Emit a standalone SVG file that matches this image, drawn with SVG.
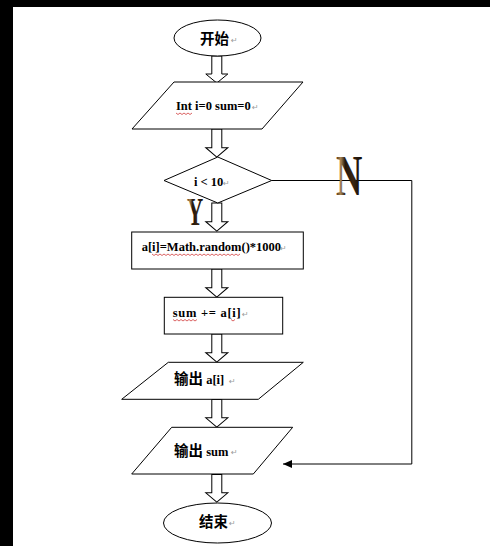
<svg xmlns="http://www.w3.org/2000/svg" width="490" height="546" viewBox="0 0 490 546">
<style>
.shape{fill:#fff;stroke:#000;stroke-width:1}
.barrow{fill:#fff;stroke:#000;stroke-width:1}
.en{font-family:"Liberation Serif","Times New Roman",serif;font-weight:bold;font-size:12.5px;fill:#000}
.cn{font-family:"Noto Sans CJK SC","Noto Sans",sans-serif;font-weight:bold;font-size:14.5px;fill:#000}
.pm{font-family:"DejaVu Sans",sans-serif;font-size:8px;fill:#9a9a9a}
.wavy{fill:none;stroke:#d23c3c;stroke-width:0.8}
.conn{fill:none;stroke:#000;stroke-width:1}
.big{font-family:"Liberation Serif","Times New Roman",serif;font-weight:bold;fill:url(#bronze)}
</style>
<defs>
<linearGradient id="bronze" x1="0" y1="0" x2="1" y2="0">
<stop offset="0" stop-color="#4a3216"/>
<stop offset="0.18" stop-color="#a88452"/>
<stop offset="0.35" stop-color="#24160a"/>
<stop offset="0.65" stop-color="#3a2612"/>
<stop offset="1" stop-color="#0e0804"/>
</linearGradient>
<path id="ba" d="M-5,0 L5,0 L5,18 L11,18 L0,27 L-11,18 L-5,18 Z"/>
<marker id="ah" markerWidth="10" markerHeight="8" refX="9" refY="4" orient="auto" markerUnits="userSpaceOnUse">
<path d="M0,0 L9,4 L0,8 Z" fill="#000"/>
</marker>
</defs>
<rect x="0" y="0" width="490" height="546" fill="#fff"/>
<rect x="0" y="0" width="490" height="7" fill="#000"/>
<rect x="0" y="0" width="13" height="546" fill="#000"/>

<g id="connectors">
<use href="#ba" class="barrow" transform="translate(216.8,56)"/>
<use href="#ba" class="barrow" transform="translate(216.8,129) scale(1,1.04)"/>
<use href="#ba" class="barrow" transform="translate(216.8,203) scale(1,1.04)"/>
<use href="#ba" class="barrow" transform="translate(216.8,269) scale(1,1.04)"/>
<use href="#ba" class="barrow" transform="translate(216.8,334) scale(1,1.04)"/>
<use href="#ba" class="barrow" transform="translate(216.8,399.5) scale(1,1.02)"/>
<use href="#ba" class="barrow" transform="translate(216.8,474.5) scale(1,1.02)"/>
<polyline class="conn" points="271.7,180.5 411.8,180.5 411.8,464 283,464" marker-end="url(#ah)"/>
<text class="big" font-size="56" transform="translate(336,195) scale(0.65,1)">N</text>
<text class="big" font-size="40" transform="translate(187,224.5) scale(0.56,1)">Y</text>
</g>

<g id="start">
<ellipse class="shape" cx="217.5" cy="38" rx="43.5" ry="18"/>
<text class="cn" x="200" y="44" font-size="15">开始</text>
<text class="pm" x="231" y="43">↵</text>
</g>

<g id="init">
<polygon class="shape" points="174,82 303,82 262,129 132,129"/>
<text class="en" x="176" y="110">Int i=0 sum=0</text>
<text class="pm" x="252" y="110">↵</text>
<path class="wavy" d="M176,113 l2,1.5 l2,-1.5 l2,1.5 l2,-1.5 l2,1.5 l2,-1.5 l2,1.5 l2,-1.5"/>
</g>

<g id="cond">
<polygon class="shape" points="217.8,157 271.7,180.5 217.8,203 164,180.5"/>
<text class="en" x="194" y="186">i &lt; 10</text>
<text class="pm" x="223" y="186">↵</text>
</g>

<g id="assign">
<rect class="shape" x="131.7" y="232" width="171.6" height="37"/>
<text class="en" x="141.7" y="251">a[i]=Math.random()*1000</text>
<text class="pm" x="280" y="251">↵</text>
<path class="wavy" d="M152,254 l2,1.5 l2,-1.5 l2,1.5 l2,-1.5 l2,1.5 l2,-1.5 l2,1.5 l2,-1.5 l2,1.5 l2,-1.5 l2,1.5 l2,-1.5 l2,1.5 l2,-1.5 l2,1.5 l2,-1.5 l2,1.5 l2,-1.5 l2,1.5 l2,-1.5 l2,1.5 l2,-1.5 l2,1.5 l2,-1.5 l2,1.5 l2,-1.5 l2,1.5 l2,-1.5 l2,1.5 l2,-1.5 l2,1.5 l2,-1.5 l2,1.5 l2,-1.5 l2,1.5 l2,-1.5 l2,1.5 l2,-1.5 l2,1.5 l2,-1.5 l2,1.5 l2,-1.5 l2,1.5 l2,-1.5"/>
</g>

<g id="sum">
<rect class="shape" x="164.3" y="297.3" width="118.4" height="36.7"/>
<text class="en" x="172.7" y="317" textLength="68" lengthAdjust="spacing">sum += a[i]</text>
<text class="pm" x="242" y="317">↵</text>
<path class="wavy" d="M173,319.5 l2,1.5 l2,-1.5 l2,1.5 l2,-1.5 l2,1.5 l2,-1.5 l2,1.5 l2,-1.5 l2,1.5 l2,-1.5 l2,1.5 l2,-1.5"/>
<path class="wavy" d="M231,319.5 l2,1.5 l2,-1.5"/>
</g>

<g id="out-ai">
<polygon class="shape" points="168.3,362.3 303.3,362.3 258.3,399.3 121.7,399.3"/>
<text x="174" y="384"><tspan class="cn" font-size="14">输出</tspan><tspan class="en"> a[i]</tspan></text>
<text class="pm" x="229" y="384">↵</text>
</g>

<g id="out-sum">
<polygon class="shape" points="171.7,427.3 292.7,427.3 253.3,474 131.7,474"/>
<text x="174" y="456"><tspan class="cn" font-size="14">输出</tspan><tspan class="en"> sum</tspan></text>
<text class="pm" x="231" y="455">↵</text>
</g>

<g id="end">
<ellipse class="shape" cx="217.5" cy="523" rx="54" ry="20"/>
<text class="cn" x="199" y="527">结束</text>
<text class="pm" x="229" y="526">↵</text>
</g>
</svg>
